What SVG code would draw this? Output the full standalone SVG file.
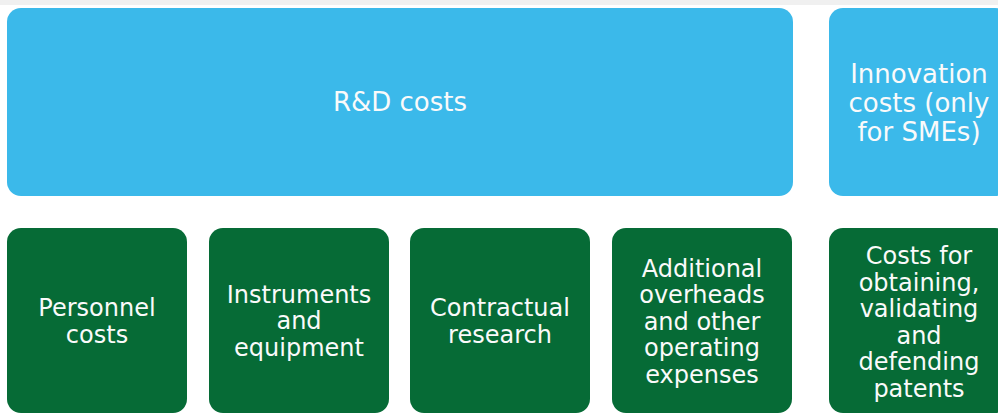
<svg xmlns="http://www.w3.org/2000/svg" width="998" height="414" viewBox="0 0 998 414">
  <style>
    .top { fill: #3BB9EA; }
    .sub { fill: #066B36; }
    text { fill: #FAFAFA; font-family: "DejaVu Sans", Verdana, sans-serif; text-anchor: middle; }
    .big { font-size: 26px; }
    .small { font-size: 24px; }
  </style>
  <rect x="0" y="0" width="998" height="414" fill="#FFFFFF"/>
  <!-- thin grey band along the top edge -->
  <rect x="0" y="0" width="998" height="5" fill="#F0F0F0"/>

  <g id="connectors"></g>

  <g id="rd-costs">
    <rect class="top" x="7" y="8" width="786" height="188" rx="14"/>
    <text class="big" x="400" y="111">R&amp;D costs</text>
  </g>

  <g id="innovation-costs">
    <rect class="top" x="829" y="8" width="180" height="188" rx="14"/>
    <text class="big" x="919" y="82.5">Innovation</text>
    <text class="big" x="919" y="111.5">costs (only</text>
    <text class="big" x="919" y="140.5">for SMEs)</text>
  </g>

  <g id="personnel-costs">
    <rect class="sub" x="7" y="228" width="180" height="185" rx="14"/>
    <text class="small" x="97" y="316">Personnel</text>
    <text class="small" x="97" y="342.5">costs</text>
  </g>

  <g id="instruments">
    <rect class="sub" x="209" y="228" width="180" height="185" rx="14"/>
    <text class="small" x="299" y="302.7">Instruments</text>
    <text class="small" x="299" y="329.2">and</text>
    <text class="small" x="299" y="355.7">equipment</text>
  </g>

  <g id="contractual-research">
    <rect class="sub" x="410" y="228" width="180" height="185" rx="14"/>
    <text class="small" x="500" y="316">Contractual</text>
    <text class="small" x="500" y="342.5">research</text>
  </g>

  <g id="overheads">
    <rect class="sub" x="612" y="228" width="180" height="185" rx="14"/>
    <text class="small" x="702" y="276.5">Additional</text>
    <text class="small" x="702" y="303">overheads</text>
    <text class="small" x="702" y="329.5">and other</text>
    <text class="small" x="702" y="356">operating</text>
    <text class="small" x="702" y="382.5">expenses</text>
  </g>

  <g id="patents">
    <rect class="sub" x="829" y="228" width="180" height="185" rx="14"/>
    <text class="small" x="919" y="264">Costs for</text>
    <text class="small" x="919" y="290.5">obtaining,</text>
    <text class="small" x="919" y="317">validating</text>
    <text class="small" x="919" y="343.5">and</text>
    <text class="small" x="919" y="370">defending</text>
    <text class="small" x="919" y="396.5">patents</text>
  </g>
</svg>
